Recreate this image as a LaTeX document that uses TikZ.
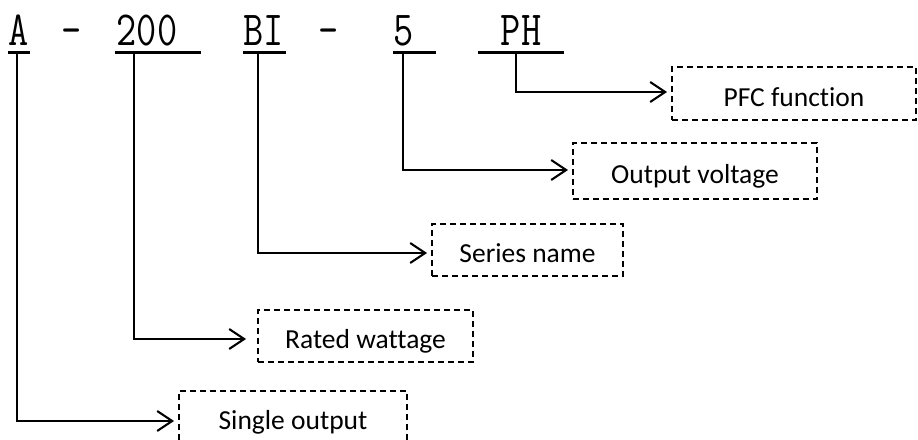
\documentclass[tikz,border=0pt]{standalone}
\usepackage{fontspec}
\setmainfont{Carlito}[Ligatures=NoCommon]
\usetikzlibrary{arrows.meta}

\newcommand{\codechar}[1]{\scalebox{0.8}[1]{#1}}

\begin{document}
\begin{tikzpicture}[
            x=1pt, y=-1pt,
            code/.style={anchor=base, inner sep=0pt,
                         font=\fontsize{49}{49}\ttfamily},
            uline/.style={fill=black, inner sep=0pt, minimum height=3.2pt},
            part/.style={draw, dash pattern=on 6pt off 4pt, line width=1.8pt,
                         inner sep=0pt, text height=25pt, text depth=0pt,
                         font=\fontsize{27.5}{33}\selectfont},
            arr/.style={-{Straight Barb[length=15pt, width=20pt]},
                        line width=2.1pt, shorten >=4pt}]

            \useasboundingbox (0,0) rectangle (918,439);

            %% ── Model code ────────────────────────────────────────────────
            \node[code] (tA)   at (19,45)    {\codechar{A}};
            \node[code] (dsh1) at (72,45)    {\codechar{-}};
            \node[code] (t200) at (147,45)   {\codechar{200}};
            \node[code] (tBI)  at (263.5,45) {\codechar{BI}};
            \node[code] (dsh2) at (329,45)   {\codechar{-}};
            \node[code] (t5)   at (403.5,45) {\codechar{5}};
            \node[code] (tPH)  at (521,45)   {\codechar{PH}};

            \node[uline, minimum width=22pt] (uA)   at (19,52.5)    {};
            \node[uline, minimum width=86pt] (u200) at (158,52.5)   {};
            \node[uline, minimum width=43pt] (uBI)  at (264.5,52.5) {};
            \node[uline, minimum width=43pt] (u5)   at (414.5,52.5) {};
            \node[uline, minimum width=86pt] (uPH)  at (521,52.5)   {};

            %% ── Meaning boxes ─────────────────────────────────────────────
            \node[part, minimum width=244pt, minimum height=53pt]
                                      (pfc)    at (794,93.5)  {PFC function};
            \node[part, minimum width=244pt, minimum height=56pt]
                                      (volt)   at (695,171)   {Output voltage};
            \node[part, minimum width=191pt, minimum height=52pt]
                                      (series) at (527.5,250) {Series name};
            \node[part, minimum width=215pt, minimum height=52pt]
                                      (rated)  at (365.5,336) {Rated wattage};
            \node[part, minimum width=228pt, minimum height=51pt]
                                      (single) at (293,416.5) {Single output};

            %% ── Leaders ───────────────────────────────────────────────────
            \draw[arr] ([xshift=-5pt]uPH.south)    |- ([yshift=1.5pt]pfc.west);
            \draw[arr] ([xshift=-11.5pt]u5.south)  |- ([yshift=1pt]volt.west);
            \draw[arr] ([xshift=-6.5pt]uBI.south)  |- ([yshift=-3pt]series.west);
            \draw[arr, shorten >=11pt]
                       ([xshift=-24pt]u200.south)  |- ([yshift=-3pt]rated.west);
            \draw[arr] ([xshift=-2pt]uA.south)     |- ([yshift=-4.5pt]single.west);

        \end{tikzpicture}
\end{document}
